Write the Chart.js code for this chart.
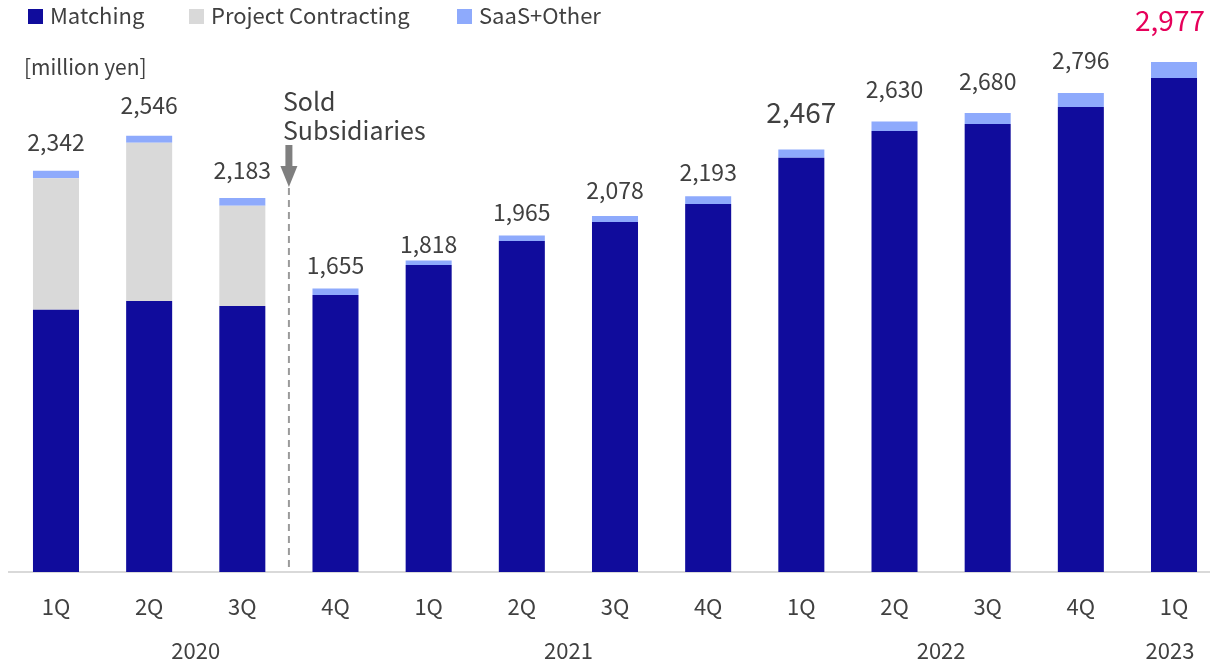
<!DOCTYPE html>
<html>
<head>
<meta charset="utf-8">
<script src="https://cdn.jsdelivr.net/npm/chart.js@4.4.1/dist/chart.umd.min.js"></script>
<style>
  html, body { margin: 0; padding: 0; background: #ffffff; overflow: hidden; }
  #wrap { position: relative; width: 1210px; height: 663px; overflow: hidden; }
  canvas { position: absolute; left: 0; top: 0; }
</style>
</head>
<body>
<div id="wrap"><canvas id="c" width="1230" height="663"></canvas></div>
<script>
// Quarterly revenue by segment [million yen]
const quarters = ['1Q', '2Q', '3Q', '4Q', '1Q', '2Q', '3Q', '4Q', '1Q', '2Q', '3Q', '4Q', '1Q'];
const years = ['2020', '2020', '2020', '2020', '2021', '2021', '2021', '2021', '2022', '2022', '2022', '2022', '2023'];
const matching = [1531, 1582, 1553, 1617, 1792, 1932, 2043, 2148, 2419, 2574, 2615, 2715, 2884];
const projectContracting = [767, 924, 585, 0, 0, 0, 0, 0, 0, 0, 0, 0, 0];
const saasOther = [44, 40, 45, 38, 26, 33, 35, 45, 48, 56, 65, 81, 93];
const seriesNames = ['Matching', 'Project Contracting', 'SaaS+Other'];

const FONT = '"Noto Sans CJK JP", "Noto Sans", sans-serif';
const TEXT = '#404040';
const COLORS = ['#100c9c', '#d9d9d9', '#8eaafc'];

const totals = quarters.map((_, i) => matching[i] + projectContracting[i] + saasOther[i]);

// Overlay drawing: legend, unit, total labels, year labels, divestiture marker
const overlay = {
  id: 'overlay',
  afterDatasetsDraw(chart, args, opts) {
    const ctx = chart.ctx;
    const x = chart.scales.x;
    const y = chart.scales.y;
    ctx.save();

    // legend
    const legendX = [28, 189, 457];
    ctx.font = '22px ' + FONT;
    ctx.textBaseline = 'middle';
    ctx.textAlign = 'left';
    chart.data.datasets.forEach((ds, i) => {
      ctx.fillStyle = ds.backgroundColor;
      ctx.fillRect(legendX[i], 9, 15, 15);
      ctx.fillStyle = TEXT;
      ctx.fillText(ds.label, legendX[i] + 22, 16);
    });

    // unit
    ctx.font = '21px ' + FONT;
    ctx.fillText('[million yen]', 24, 67);

    // total labels above each stack
    ctx.textAlign = 'center';
    totals.forEach((t, i) => {
      const px = x.getPixelForValue(i);
      const py = y.getPixelForValue(t) - opts.labelGap[i];
      const last = i === totals.length - 1;
      const big = opts.bigLabels.includes(i);
      ctx.font = (big ? '28px ' : '23px ') + FONT;
      ctx.fillStyle = last ? '#e6005a' : TEXT;
      ctx.fillText(t.toLocaleString('en-US'), px - (last ? 4 : 0), py);
    });

    // year labels centred under their quarters
    ctx.font = '22px ' + FONT;
    ctx.fillStyle = TEXT;
    const uniq = [...new Set(years)];
    uniq.forEach(yr => {
      const idx = years.map((v, i) => v === yr ? i : -1).filter(i => i >= 0);
      const cx = (x.getPixelForValue(idx[0]) + x.getPixelForValue(idx[idx.length - 1])) / 2;
      ctx.fillText(yr, yr === '2023' ? cx - 4 : cx, 651);
    });

    // divestiture marker between 3Q and 4Q 2020
    const mx = (x.getPixelForValue(2) + x.getPixelForValue(3)) / 2;
    ctx.strokeStyle = '#9a9a9a';
    ctx.lineWidth = 2;
    ctx.setLineDash([7, 5]);
    ctx.beginPath();
    ctx.moveTo(mx, 176);
    ctx.lineTo(mx, 568);
    ctx.stroke();
    ctx.setLineDash([]);

    ctx.fillStyle = '#7f7f7f';
    ctx.fillRect(mx - 3.5, 145, 7, 22);
    ctx.beginPath();
    ctx.moveTo(mx - 8.5, 166);
    ctx.lineTo(mx + 8.5, 166);
    ctx.lineTo(mx, 187);
    ctx.closePath();
    ctx.fill();

    ctx.fillStyle = TEXT;
    ctx.textAlign = 'left';
    ctx.font = '25px ' + FONT;
    ctx.fillText('Sold', mx - 6, 101);
    ctx.fillText('Subsidiaries', mx - 6, 130);

    ctx.restore();
  }
};

const ctx = document.getElementById('c').getContext('2d');
new Chart(ctx, {
  type: 'bar',
  data: {
    labels: quarters,
    datasets: [
      { label: seriesNames[0], data: matching, backgroundColor: COLORS[0] },
      { label: seriesNames[1], data: projectContracting, backgroundColor: COLORS[1] },
      { label: seriesNames[2], data: saasOther, backgroundColor: COLORS[2] }
    ]
  },
  options: {
    responsive: false,
    animation: false,
    devicePixelRatio: 1,
    layout: { padding: { left: 9.4, right: 9.4, top: 58.1, bottom: 0 } },
    datasets: {
      bar: { categoryPercentage: 1, barPercentage: 0.494, borderWidth: 0 }
    },
    scales: {
      x: {
        stacked: true,
        grid: { display: false, drawTicks: false },
        border: { display: true, color: '#d9d9d9', width: 2 },
        ticks: { color: TEXT, font: { family: FONT, size: 22 }, padding: 21, maxRotation: 0, autoSkip: false },
        afterFit(scale) { scale.height = 91; }
      },
      y: {
        stacked: true,
        display: false,
        min: 0,
        max: 3000
      }
    },
    plugins: {
      legend: { display: false },
      tooltip: { enabled: false },
      overlay: {
        labelGap: [29, 31, 28, 23, 16, 23, 26, 24, 37, 32, 32, 33, 42],
        bigLabels: [8, 12]
      }
    }
  },
  plugins: [overlay]
});
</script>
</body>
</html>
